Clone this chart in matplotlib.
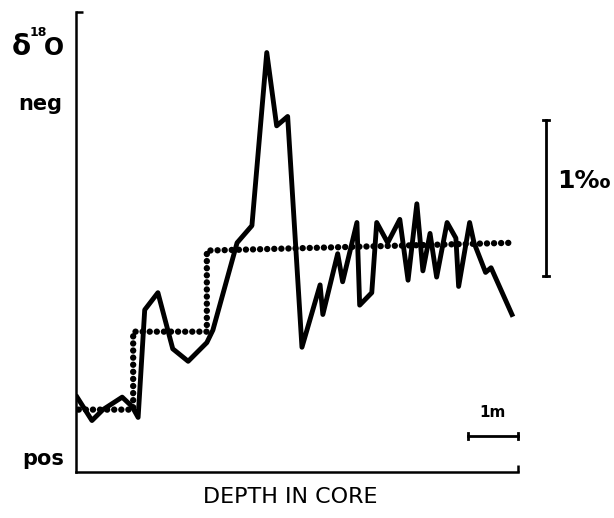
import numpy as np
import matplotlib
matplotlib.use("Agg")
import matplotlib.pyplot as plt

# measured oxygen isotope curve (depth in m, delta18O in permil above "pos" base)
depth = [0.02, 0.29, 0.49, 0.84, 1.02, 1.13, 1.25, 1.49, 1.76, 2.04, 2.38, 2.49,
         2.93, 3.20, 3.47, 3.65, 3.85, 4.11, 4.44, 4.49, 4.76, 4.85, 5.11, 5.16,
         5.38, 5.47, 5.67, 5.89, 6.04, 6.20, 6.31, 6.44, 6.56, 6.75, 6.91, 6.96,
         7.16, 7.24, 7.45, 7.55, 7.93]
d18o = [0.48, 0.33, 0.40, 0.48, 0.42, 0.35, 1.04, 1.15, 0.79, 0.71, 0.83, 0.91,
        1.47, 1.58, 2.69, 2.22, 2.28, 0.80, 1.20, 1.01, 1.40, 1.22, 1.60, 1.07,
        1.15, 1.60, 1.47, 1.62, 1.23, 1.72, 1.29, 1.53, 1.25, 1.60, 1.50, 1.19,
        1.60, 1.47, 1.28, 1.31, 1.01]

# stepped (model) curve
step_depth = [0.05, 1.04, 1.04, 2.38, 2.38, 7.93]
step_d18o = [0.40, 0.40, 0.90, 0.90, 1.42, 1.47]

xmax = 8.04
ymax = 2.95

W, H = 614, 518
fig = plt.figure(figsize=(W / 100, H / 100), dpi=100)
ax = fig.add_axes([76 / W, 1 - 472 / H, 442 / W, 460 / H])

ax.plot(depth, d18o, color="black", lw=3.5, solid_joinstyle="round")
ax.plot(step_depth, step_d18o, color="black", lw=4.6,
        linestyle=(0, (0.01, 1.1)), dash_capstyle="round")

ax.set_xlim(0, xmax)
ax.set_ylim(0, ymax)
for s in ["top", "right"]:
    ax.spines[s].set_visible(False)
for s in ["left", "bottom"]:
    ax.spines[s].set_linewidth(1.8)
ax.set_xticks([xmax])
ax.set_yticks([ymax])
ax.set_xticklabels([])
ax.set_yticklabels([])
ax.tick_params(direction="in", length=5, width=1.8)

# 1 m scale bar
ax.plot([7.13, 8.04], [0.23, 0.23], color="black", lw=2, clip_on=False)
ax.plot([7.13, 7.13], [0.21, 0.25], color="black", lw=2, clip_on=False)
ax.plot([8.04, 8.04], [0.21, 0.25], color="black", lw=2, clip_on=False)
ax.text(7.58, 0.38, "1m", ha="center", va="center", fontsize=11, fontweight="bold")

# 1 permil scale bar
ax.plot([8.55, 8.55], [1.26, 2.26], color="black", lw=2, clip_on=False)
ax.plot([8.50, 8.60], [1.26, 1.26], color="black", lw=2, clip_on=False)
ax.plot([8.50, 8.60], [2.26, 2.26], color="black", lw=2, clip_on=False)
fig.text(557 / W, 1 - 181 / H, "1‰", ha="left", va="center", fontsize=18, fontweight="bold")

# delta 18 O label, drawn in pieces to get the small raised 18
fig.text(21 / W, 1 - 55 / H, "δ", ha="center", va="baseline", fontsize=20, fontweight="bold")
fig.text(38 / W, 1 - 36 / H, "18", ha="center", va="baseline", fontsize=9, fontweight="bold")
fig.text(54 / W, 1 - 55 / H, "O", ha="center", va="baseline", fontsize=17, fontweight="bold")
fig.text(40 / W, 1 - 104 / H, "neg", ha="center", va="center", fontsize=15, fontweight="bold")
fig.text(43 / W, 1 - 459 / H, "pos", ha="center", va="center", fontsize=15, fontweight="bold")
fig.text(290 / W, 1 - 497 / H, "DEPTH IN CORE", ha="center", va="center", fontsize=16)

fig.savefig("out.png", dpi=100)
